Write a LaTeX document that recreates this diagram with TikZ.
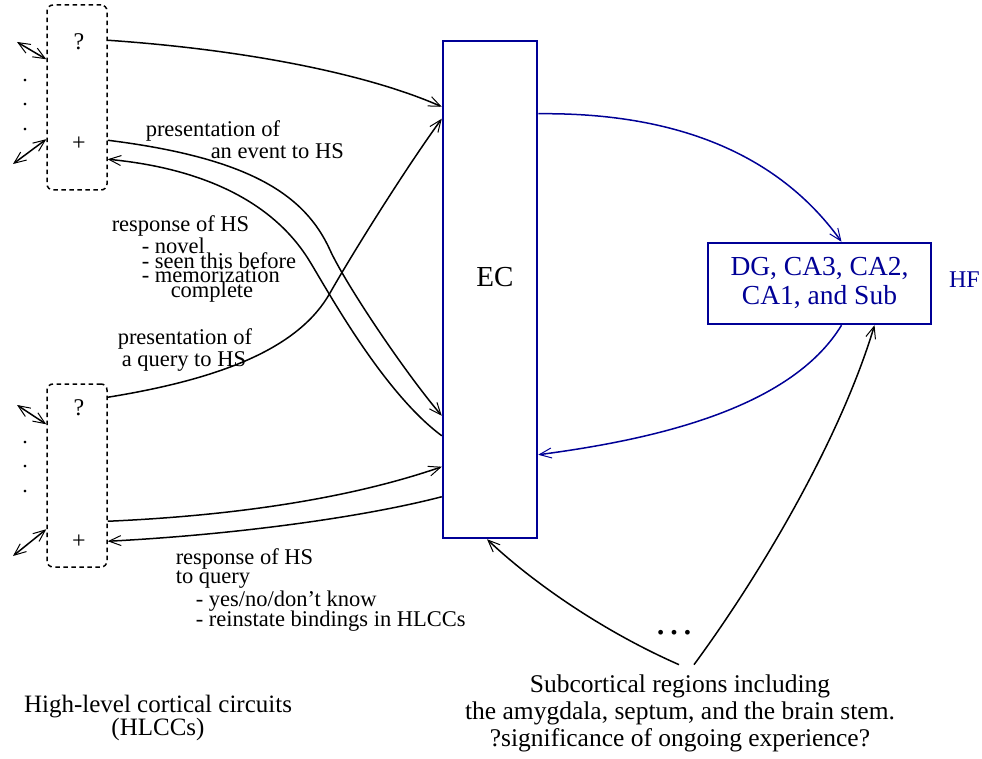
\documentclass[tikz,border=0pt]{standalone}
\usepackage{fontspec}
\setmainfont{Liberation Serif}
\usetikzlibrary{arrows.meta}
\definecolor{hfblue}{RGB}{0,0,150}

\begin{document}
\begin{tikzpicture}[x=1pt,y=-1pt,line width=1.5pt,
  >={Straight Barb[length=12pt,width=10pt,line width=1pt]},
  hlcc/.style={draw,dash pattern=on 4.5pt off 3.5pt,rounded corners=6pt,minimum width=60pt,inner sep=0pt},
  bluebox/.style={draw=hfblue,line width=2.5pt,inner sep=0pt},
  lbl/.style={font=\fontsize{22.5}{19}\selectfont,align=left,inner sep=0pt,anchor=north west},
  big/.style={font=\fontsize{25.5}{27}\selectfont,align=center,inner sep=0pt},
  sym/.style={font=\fontsize{24}{24}\selectfont,inner sep=0pt},
  vdot/.style={font=\fontsize{22}{24.5}\selectfont,align=center,inner sep=0pt}]
\useasboundingbox (0,0) rectangle (982,759);

%high-level cortical circuits
\node[hlcc,minimum height=185pt] (top) at (77,97.5) {};
\node[hlcc,minimum height=183pt] (bot) at (77,475.5) {};
\node[sym] (topq) at (79,42) {?};
\node[sym] (topp) at (79,144) {+};
\node[sym] (botq) at (79,408) {?};
\node[sym] (botp) at (79,542) {+};
\node[vdot] (topdots) at (25,105) {.\\.\\.};
\node[vdot] (botdots) at (25,467) {.\\.\\.};
\node[big,font=\fontsize{25}{22.5}\selectfont] (hlccs) at (158,718) {High-level cortical circuits\\(HLCCs)};

%EC and HF
\node[bluebox,minimum width=94pt,minimum height=497pt] (ec) at (490,289.5) {};
\node[font=\fontsize{29}{29}\selectfont,anchor=base] (eclbl) at (495,287) {EC};
\node[bluebox,minimum width=223pt,minimum height=81pt,text=hfblue,
  font=\fontsize{27.5}{29}\selectfont,align=center] (hc) at (819.5,283.5) {DG, CA3, CA2,\\CA1, and Sub};
\node[text=hfblue,font=\fontsize{24}{24}\selectfont,anchor=west] (hf) at (945,280) {HF};

%subcortical regions
\node[big] (sub) at (680,713) {Subcortical regions including\\the amygdala, septum, and the brain stem.\\?significance of ongoing experience?};
\node[font=\fontsize{40}{40}\selectfont,anchor=base] (more) at (674,634) {\ldots};

%labels
\node[lbl] (evt) at (145,120) {presentation of\\[1pt]\hspace*{65pt}an event to HS};
\node[lbl] (resp) at (111,215) {response of HS\\[1pt]\hspace*{30pt}- novel\\[-4pt]\hspace*{30pt}- seen this before\\[-5pt]\hspace*{30pt}- memorization\\[-4pt]\hspace*{59pt}complete};
\node[lbl] (qry) at (117,328) {presentation of\\[1.5pt]\hspace*{4pt}a query to HS};
\node[lbl] (qresp) at (175,548) {response of HS\\to query\\[1pt]\hspace*{20pt}- yes/no/don't know\\[-1pt]\hspace*{20pt}- reinstate bindings in HLCCs};

%free ends
\coordinate (ta) at (17,42);
\coordinate (tb) at (13,164);
\coordinate (ba) at (17,405);
\coordinate (bb) at (13,556);
\draw[<->] (ta) -- ([yshift=-55pt]top.north west);
\draw[<->] (tb) -- ([yshift=-135pt]top.north west);
\draw[<->] (ba) -- ([yshift=-41pt]bot.north west);
\draw[<->] (bb) -- ([yshift=-146pt]bot.north west);

%arrows to and from EC
\draw[->] ([yshift=-36pt]top.north east) .. controls (250,50) and (370,75) .. ([yshift=-67pt]ec.north west);
\draw[->] ([yshift=-136pt]top.north east) .. controls (250,158) and (305,195) .. (330,250)
  .. controls (345,283) and (403,370) .. ([yshift=-376pt]ec.north west);
\draw[<-] ([yshift=-155pt]top.north east) .. controls (240,172) and (288,228) .. (307,257)
  .. controls (322,280) and (380,390) .. ([yshift=-396pt]ec.north west);
\draw[->] ([yshift=-14pt]bot.north east) .. controls (227,378) and (300,346) .. (330,293)
  .. controls (355,249) and (408,165) .. ([yshift=-79pt]ec.north west);
\draw[->] ([yshift=-138pt]bot.north east) .. controls (250,515) and (360,495) .. ([yshift=-427pt]ec.north west);
\draw[<-] ([yshift=-158pt]bot.north east) .. controls (230,535) and (360,518) .. ([yshift=-457pt]ec.north west);

%EC and HF
\draw[->,hfblue] ([yshift=-74pt]ec.north east) .. controls (700,112) and (790,170) .. ([xshift=22pt]hc.north);
\draw[->,hfblue] ([xshift=22pt]hc.south) .. controls (790,410) and (650,440) .. ([yshift=-415pt]ec.north east);

%subcortical
\draw[->] ([xshift=-1pt,yshift=9pt]sub.north) .. controls (600,630) and (530,580) .. ([xshift=-3pt]ec.south);
\draw[->] ([xshift=14pt,yshift=9pt]sub.north) .. controls (760,575) and (840,440) .. ([xshift=55pt]hc.south);
\end{tikzpicture}
\end{document}
